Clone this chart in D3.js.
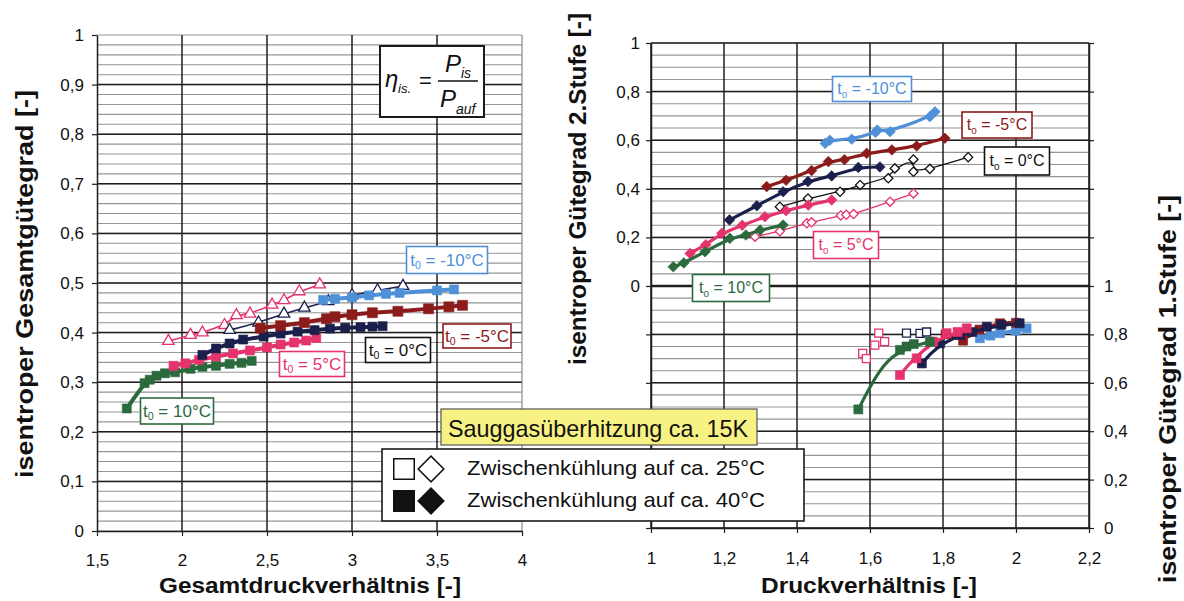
<!DOCTYPE html>
<html>
<head>
<meta charset="utf-8">
<script src="https://cdn.jsdelivr.net/npm/d3@7"></script>
<style>
  body { margin: 0; background: #fff; }
  svg { display: block; font-family: "Liberation Sans", Arial, sans-serif; }
</style>
</head>
<body>
<svg id="chart" width="1184" height="601"></svg>
<script>
// ---- data: [druckverhaeltnis, guetegrad] ----
// left panel: Gesamtdruckverhaeltnis vs. isentroper Gesamtguetegrad
const ges_t10_40 = [[1.675,0.247],[1.78,0.298],[1.81,0.305],[1.85,0.313],[1.9,0.318],[1.96,0.32],[2.05,0.327],[2.12,0.331],[2.2,0.333],[2.28,0.337],[2.35,0.339],[2.41,0.343]];
const ges_t5_40  = [[1.95,0.333],[2.02,0.338],[2.1,0.345],[2.2,0.352],[2.3,0.358],[2.4,0.364],[2.5,0.37],[2.58,0.376],[2.66,0.38],[2.73,0.384],[2.79,0.389]];
const ges_t0_40  = [[2.12,0.355],[2.2,0.368],[2.28,0.378],[2.36,0.386],[2.48,0.392],[2.58,0.398],[2.68,0.402],[2.78,0.405],[2.87,0.408],[2.96,0.41],[3.05,0.411],[3.12,0.412],[3.18,0.413]];
const ges_tm5_40 = [[2.46,0.409],[2.58,0.414],[2.72,0.42],[2.85,0.428],[2.9,0.432],[3.0,0.436],[3.12,0.44],[3.27,0.443],[3.45,0.448],[3.57,0.452],[3.65,0.455]];
const ges_tm10_40 = [[2.83,0.466],[2.9,0.468],[3.0,0.471],[3.1,0.475],[3.2,0.478],[3.28,0.48],[3.5,0.485],[3.6,0.487]];
const ges_t5_25  = [[1.92,0.383],[2.05,0.395],[2.12,0.4],[2.25,0.415],[2.32,0.435],[2.4,0.438],[2.53,0.456],[2.6,0.465],[2.69,0.483],[2.81,0.497]];
const ges_t0_25  = [[2.28,0.405],[2.45,0.42],[2.6,0.438],[2.72,0.45],[2.86,0.463],[3.0,0.475],[3.15,0.485],[3.3,0.494]];

// right panel, upper half: isentroper Guetegrad 2. Stufe
const st2_tm10_40 = [[1.477,0.587],[1.49,0.6],[1.55,0.604],[1.615,0.632],[1.62,0.642],[1.655,0.635],[1.764,0.697],[1.778,0.717]];
const st2_tm5_40  = [[1.317,0.409],[1.37,0.435],[1.44,0.475],[1.486,0.512],[1.53,0.52],[1.591,0.546],[1.66,0.56],[1.728,0.576],[1.805,0.608]];
const st2_t0_40   = [[1.215,0.272],[1.29,0.33],[1.362,0.388],[1.43,0.43],[1.495,0.453],[1.568,0.488],[1.627,0.49]];
const st2_t0_25   = [[1.353,0.326],[1.43,0.36],[1.518,0.388],[1.573,0.416],[1.65,0.443],[1.668,0.484],[1.719,0.521],[1.719,0.47],[1.764,0.482],[1.869,0.53]];
const st2_t5_40   = [[1.107,0.134],[1.15,0.17],[1.194,0.217],[1.25,0.25],[1.312,0.285],[1.37,0.31],[1.431,0.333],[1.495,0.354]];
const st2_t5_25   = [[1.285,0.203],[1.353,0.225],[1.427,0.258],[1.44,0.262],[1.52,0.29],[1.535,0.293],[1.555,0.296],[1.655,0.347],[1.719,0.381]];
const st2_t10_40  = [[1.061,0.079],[1.09,0.095],[1.148,0.141],[1.216,0.196],[1.26,0.21],[1.299,0.23],[1.362,0.251]];

// right panel, lower half: isentroper Guetegrad 1. Stufe
const st1_t10_40  = [[1.568,0.49],[1.682,0.736],[1.70,0.75],[1.72,0.76],[1.764,0.77]];
const st1_t10_fit = [[1.568,0.49],[1.6,0.584],[1.636,0.674],[1.682,0.736],[1.764,0.77]];
const st1_t5_40   = [[1.682,0.632],[1.728,0.701],[1.773,0.77],[1.81,0.805],[1.84,0.81],[1.865,0.825]];
const st1_t5_fit  = [[1.682,0.632],[1.72,0.7],[1.77,0.765],[1.82,0.8],[1.87,0.82]];
const st1_t0_40   = [[1.742,0.68],[1.792,0.763],[1.847,0.798],[1.88,0.81],[1.92,0.832],[1.96,0.84],[2.01,0.846]];
const st1_t0_fit  = [[1.742,0.68],[1.78,0.745],[1.84,0.795],[1.92,0.828],[2.01,0.846]];
const st1_tm5_40  = [[1.807,0.80],[1.855,0.774],[1.9,0.82],[1.956,0.846],[2.0,0.848]];
const st1_tm10_40 = [[1.901,0.784],[1.93,0.795],[1.956,0.805],[2.0,0.815],[2.029,0.825]];
const st1_t5_25   = [[1.58,0.722],[1.59,0.70],[1.613,0.756],[1.624,0.805],[1.64,0.77]];
const st1_t0_25   = [[1.70,0.805],[1.737,0.804],[1.755,0.81]];

const leftYTicks = [0,0.1,0.2,0.3,0.4,0.5,0.6,0.7,0.8,0.9,1];
const leftXTicks = [1.5,2,2.5,3,3.5,4];
const rightYTicks = [0,0.2,0.4,0.6,0.8,1];
const rightXTicks = [1,1.2,1.4,1.6,1.8,2,2.2];

const colors = {
  t10: "#2b6a3c", t5: "#e5336c", t0: "#1b1f4c", tm5: "#8c1c1c", tm10: "#4f90d8"
};

const svg = d3.select("#chart");
const de = d3.formatLocale({decimal: ",", thousands: ".", grouping: [3], currency: ["", " €"]});
const fmt = de.format("~g");

// scales
const xL = d3.scaleLinear().domain([1.5, 4]).range([97, 522]);
const yL = d3.scaleLinear().domain([0, 1]).range([531, 35]);
const xR = d3.scaleLinear().domain([1, 2.2]).range([651, 1089]);
const yUp = d3.scaleLinear().domain([0, 1]).range([286, 43]);
const yLo = d3.scaleLinear().domain([0, 1]).range([528, 286]);

const minorCol = "#959595", majorCol = "#1e1e1e";

// ---------- left grid ----------
const gL = svg.append("g");
gL.selectAll(".minor").data(d3.range(0, 51).map(i => i / 50)).enter().append("line")
  .attr("x1", xL(1.5)).attr("x2", xL(4)).attr("y1", d => yL(d)).attr("y2", d => yL(d))
  .attr("stroke", minorCol).attr("stroke-width", 1.1);
gL.selectAll(".major").data(leftYTicks.slice(1, -1)).enter().append("line")
  .attr("x1", xL(1.5)).attr("x2", xL(4)).attr("y1", d => yL(d)).attr("y2", d => yL(d))
  .attr("stroke", majorCol).attr("stroke-width", 1.5);
gL.selectAll(".vmajor").data(leftXTicks.slice(1, -1)).enter().append("line")
  .attr("x1", d => xL(d)).attr("x2", d => xL(d)).attr("y1", yL(0)).attr("y2", yL(1))
  .attr("stroke", majorCol).attr("stroke-width", 1.5);
gL.append("line").attr("x1", xL(4)).attr("x2", xL(4)).attr("y1", yL(0)).attr("y2", yL(1))
  .attr("stroke", "#888").attr("stroke-width", 1.2);

// ---------- right grid ----------
const gR = svg.append("g");
[yUp, yLo].forEach(ys => {
  gR.append("g").selectAll("line").data(d3.range(0, 21).map(i => i / 20)).enter().append("line")
    .attr("x1", xR(1)).attr("x2", xR(2.2)).attr("y1", d => ys(d)).attr("y2", d => ys(d))
    .attr("stroke", minorCol).attr("stroke-width", 1.1);
  gR.append("g").selectAll("line").data(rightYTicks).enter().append("line")
    .attr("x1", xR(1)).attr("x2", xR(2.2)).attr("y1", d => ys(d)).attr("y2", d => ys(d))
    .attr("stroke", majorCol).attr("stroke-width", 1.5);
});
gR.selectAll(".vmajor").data(rightXTicks).enter().append("line")
  .attr("x1", d => xR(d)).attr("x2", d => xR(d)).attr("y1", yLo(0)).attr("y2", yUp(1))
  .attr("stroke", majorCol).attr("stroke-width", 1.5);
gR.append("line").attr("x1", xR(1)).attr("x2", xR(2.2)).attr("y1", yUp(0)).attr("y2", yUp(0))
  .attr("stroke", majorCol).attr("stroke-width", 2.4);

// ---------- axes ----------
function styleAxis(g, fs) {
  g.select(".domain").attr("stroke", majorCol).attr("stroke-width", 1.5);
  g.selectAll(".tick line").attr("stroke", majorCol).attr("stroke-width", 1.2);
  g.selectAll(".tick text").attr("font-size", fs).attr("fill", "#111")
    .attr("font-family", '"Liberation Sans", Arial, sans-serif');
}
svg.append("g").attr("transform", `translate(${xL(1.5)},0)`)
  .call(d3.axisLeft(yL).tickValues(leftYTicks).tickFormat(fmt).tickSize(5).tickPadding(8).tickSizeOuter(0))
  .call(g => styleAxis(g, 17));
svg.append("g").attr("transform", `translate(0,${yL(0)})`)
  .call(d3.axisBottom(xL).tickValues(leftXTicks).tickFormat(fmt).tickSize(5).tickPadding(18).tickSizeOuter(0))
  .call(g => styleAxis(g, 17));

svg.append("g").attr("transform", `translate(${xR(1)},0)`)
  .call(d3.axisLeft(yUp).tickValues(rightYTicks).tickFormat(fmt).tickSize(5).tickPadding(6).tickSizeOuter(0))
  .call(g => styleAxis(g, 17));
svg.append("g").attr("transform", `translate(${xR(1)},0)`)
  .call(d3.axisLeft(yLo).tickValues(rightYTicks.slice(0, -1)).tickFormat("").tickSize(5).tickSizeOuter(0))
  .call(g => styleAxis(g, 17));
svg.append("g").attr("transform", `translate(${xR(2.2)},0)`)
  .call(d3.axisRight(yLo).tickValues(rightYTicks).tickFormat(fmt).tickSize(5).tickPadding(10).tickSizeOuter(0))
  .call(g => styleAxis(g, 17));
svg.append("g").attr("transform", `translate(${xR(2.2)},0)`)
  .call(d3.axisRight(yUp).tickValues(rightYTicks.slice(1)).tickFormat("").tickSize(5).tickSizeOuter(0))
  .call(g => styleAxis(g, 17));
svg.append("g").attr("transform", `translate(0,${yLo(0)})`)
  .call(d3.axisBottom(xR).tickValues(rightXTicks).tickFormat(fmt).tickSize(5).tickPadding(19).tickSizeOuter(0))
  .call(g => styleAxis(g, 17));

// ---------- series ----------
const series = [
  // left
  {d: ges_t5_25,  x: xL, y: yL, c: colors.t5,  m: "triangle", open: true,  w: 1.6, s: 8},
  {d: ges_t0_25,  x: xL, y: yL, c: colors.t0,  m: "triangle", open: true,  w: 1.6, s: 8},
  {d: ges_t10_40, x: xL, y: yL, c: colors.t10, m: "square", w: 4, s: 9},
  {d: ges_t5_40,  x: xL, y: yL, c: colors.t5,  m: "square", w: 4, s: 9},
  {d: ges_t0_40,  x: xL, y: yL, c: colors.t0,  m: "square", w: 4, s: 9},
  {d: ges_tm5_40, x: xL, y: yL, c: colors.tm5, m: "square", w: 4, s: 10},
  {d: ges_tm10_40, x: xL, y: yL, c: colors.tm10, m: "square", w: 4, s: 9},
  // right upper
  {d: st2_t0_25,  x: xR, y: yUp, c: "#111", m: "diamond", open: true, w: 1.3, s: 6.5},
  {d: st2_t5_25,  x: xR, y: yUp, c: colors.t5, m: "diamond", open: true, w: 1.3, s: 6.5},
  {d: st2_tm10_40, x: xR, y: yUp, c: colors.tm10, m: "diamond", w: 3.2, s: 7.5},
  {d: st2_tm5_40, x: xR, y: yUp, c: colors.tm5, m: "diamond", w: 3.2, s: 7.5},
  {d: st2_t0_40,  x: xR, y: yUp, c: colors.t0, m: "diamond", w: 3.2, s: 7.5},
  {d: st2_t5_40,  x: xR, y: yUp, c: colors.t5, m: "diamond", w: 3.2, s: 7.5},
  {d: st2_t10_40, x: xR, y: yUp, c: colors.t10, m: "diamond", w: 3.2, s: 7.5},
  // right lower
  {d: st1_t5_25,  x: xR, y: yLo, c: colors.t5, m: "square", open: true, noLine: true, w: 1.3, s: 8},
  {d: st1_t0_25,  x: xR, y: yLo, c: colors.t0, m: "square", open: true, noLine: true, w: 1.3, s: 8},
  {d: st1_tm10_40, x: xR, y: yLo, c: colors.tm10, m: "square", w: 4, s: 9},
  {d: st1_tm5_40, x: xR, y: yLo, c: colors.tm5, m: "square", w: 4, s: 9},
  {d: st1_t0_40,  fit: st1_t0_fit,  x: xR, y: yLo, c: colors.t0, m: "square", w: 3.2, s: 9},
  {d: st1_t5_40,  fit: st1_t5_fit,  x: xR, y: yLo, c: colors.t5, m: "square", w: 3.2, s: 9},
  {d: st1_t10_40, fit: st1_t10_fit, x: xR, y: yLo, c: colors.t10, m: "square", w: 3.2, s: 9}
];

function markerPath(m, s) {
  if (m === "triangle") return d3.symbol(d3.symbolTriangle, s * s * 0.9)();
  return d3.symbol(d3.symbolSquare, s * s)(); // square; diamond = rotated square
}

series.forEach(sr => {
  const g = svg.append("g");
  const lineData = (sr.fit || sr.d).slice().sort((a, b) => a[0] - b[0]);
  if (!sr.noLine) {
    g.append("path")
      .attr("d", d3.line().x(p => sr.x(p[0])).y(p => sr.y(p[1])).curve(d3.curveBasis)(lineData))
      .attr("fill", "none").attr("stroke", sr.c).attr("stroke-width", sr.w)
      .attr("stroke-linecap", "round").attr("stroke-linejoin", "round");
  }
  g.selectAll("path.mk").data(sr.d).enter().append("path")
    .attr("class", "mk")
    .attr("d", markerPath(sr.m, sr.s))
    .attr("transform", p => `translate(${sr.x(p[0])},${sr.y(p[1])})` + (sr.m === "diamond" ? " rotate(45)" : ""))
    .attr("fill", sr.open ? "#fff" : sr.c)
    .attr("stroke", sr.c).attr("stroke-width", sr.open ? 1.3 : 0.6);
});

// ---------- temperature labels ----------
function tLabel(cx, cy, w, h, temp, color, fs) {
  const g = svg.append("g").attr("transform", `translate(${cx},${cy})`);
  g.append("rect").attr("x", -w / 2).attr("y", -h / 2).attr("width", w).attr("height", h)
    .attr("fill", "#fff").attr("stroke", color).attr("stroke-width", 1.6);
  const t = g.append("text").attr("text-anchor", "middle").attr("y", fs * 0.34)
    .attr("font-size", fs).attr("fill", color);
  t.append("tspan").text("t");
  t.append("tspan").attr("font-size", fs * 0.62).attr("dy", fs * 0.2).text("0");
  t.append("tspan").attr("dy", -fs * 0.2).text(` = ${temp}°C`);
}
tLabel(447, 260, 81, 27, "-10", colors.tm10, 17);
tLabel(477, 336, 68, 24, "-5", colors.tm5, 17);
tLabel(398, 350, 65, 25, "0", "#111", 17);
tLabel(312, 364, 65, 25, "5", colors.t5, 17);
tLabel(177, 411, 73, 26, "10", colors.t10, 17);

tLabel(872, 89, 79, 25, "-10", colors.tm10, 16);
tLabel(997, 125, 70, 26, "-5", colors.tm5, 16);
tLabel(1017, 161, 65, 28, "0", "#111", 16);
tLabel(846, 245, 65, 27, "5", colors.t5, 16);
tLabel(731, 288, 77, 27, "10", colors.t10, 16);

// ---------- formula box ----------
const fb = svg.append("g").attr("fill", "#111").attr("font-style", "italic");
fb.append("rect").attr("x", 380).attr("y", 46).attr("width", 104).attr("height", 71)
  .attr("fill", "#fff").attr("stroke", "#1a1a1a").attr("stroke-width", 2);
fb.append("text").attr("x", 385).attr("y", 87).attr("font-size", 24).text("η");
fb.append("text").attr("x", 398).attr("y", 93).attr("font-size", 13).text("is.");
fb.append("text").attr("x", 419).attr("y", 88).attr("font-size", 22).attr("font-style", "normal").text("=");
fb.append("line").attr("x1", 438).attr("x2", 478).attr("y1", 81).attr("y2", 81)
  .attr("stroke", "#111").attr("stroke-width", 1.5);
fb.append("text").attr("x", 445).attr("y", 72).attr("font-size", 24).text("P");
fb.append("text").attr("x", 461).attr("y", 78).attr("font-size", 14).text("is");
fb.append("text").attr("x", 440).attr("y", 107).attr("font-size", 24).text("P");
fb.append("text").attr("x", 456).attr("y", 114).attr("font-size", 14).text("auf");

// ---------- Sauggas box + legend ----------
svg.append("rect").attr("x", 441).attr("y", 409).attr("width", 316).attr("height", 36)
  .attr("fill", "#f8f285").attr("stroke", "#555").attr("stroke-width", 1.2);
svg.append("text").attr("x", 448).attr("y", 437).attr("font-size", 24).attr("fill", "#111")
  .attr("textLength", 300).attr("lengthAdjust", "spacingAndGlyphs")
  .text("Sauggasüberhitzung ca. 15K");

const lg = svg.append("g");
lg.append("rect").attr("x", 382).attr("y", 449).attr("width", 422).attr("height", 72)
  .attr("fill", "#fff").attr("stroke", "#1a1a1a").attr("stroke-width", 1.6);
const legendRows = [
  {y: 469, open: true, label: "Zwischenkühlung auf ca. 25°C"},
  {y: 501, open: false, label: "Zwischenkühlung auf ca. 40°C"}
];
legendRows.forEach(r => {
  lg.append("path").attr("d", d3.symbol(d3.symbolSquare, 420)())
    .attr("transform", `translate(404,${r.y})`)
    .attr("fill", r.open ? "#fff" : "#111").attr("stroke", "#111").attr("stroke-width", 1.5);
  lg.append("path").attr("d", d3.symbol(d3.symbolSquare, 330)())
    .attr("transform", `translate(431,${r.y}) rotate(45)`)
    .attr("fill", r.open ? "#fff" : "#111").attr("stroke", "#111").attr("stroke-width", 1.5);
  lg.append("text").attr("x", 467).attr("y", r.y + 6).attr("font-size", 21).attr("fill", "#111")
    .attr("textLength", 298).attr("lengthAdjust", "spacingAndGlyphs").text(r.label);
});

// ---------- axis titles ----------
function title(x, y, rot, len, fs, txt) {
  svg.append("text")
    .attr("transform", `translate(${x},${y}) rotate(${rot})`)
    .attr("text-anchor", "middle").attr("dy", rot ? "0.35em" : 0)
    .attr("font-size", fs).attr("font-weight", "bold").attr("fill", "#111")
    .attr("textLength", len).attr("lengthAdjust", "spacingAndGlyphs")
    .text(txt);
}
title(310, 593, 0, 302, 22, "Gesamtdruckverhältnis [-]");
title(869, 593, 0, 216, 22, "Druckverhältnis [-]");
title(25, 284, -90, 388, 23, "isentroper Gesamtgütegrad [-]");
title(578, 189, -90, 352, 23, "isentroper Gütegrad 2.Stufe [-]");
title(1168, 389, -90, 388, 23, "isentroper Gütegrad 1.Stufe [-]");
</script>
</body>
</html>
